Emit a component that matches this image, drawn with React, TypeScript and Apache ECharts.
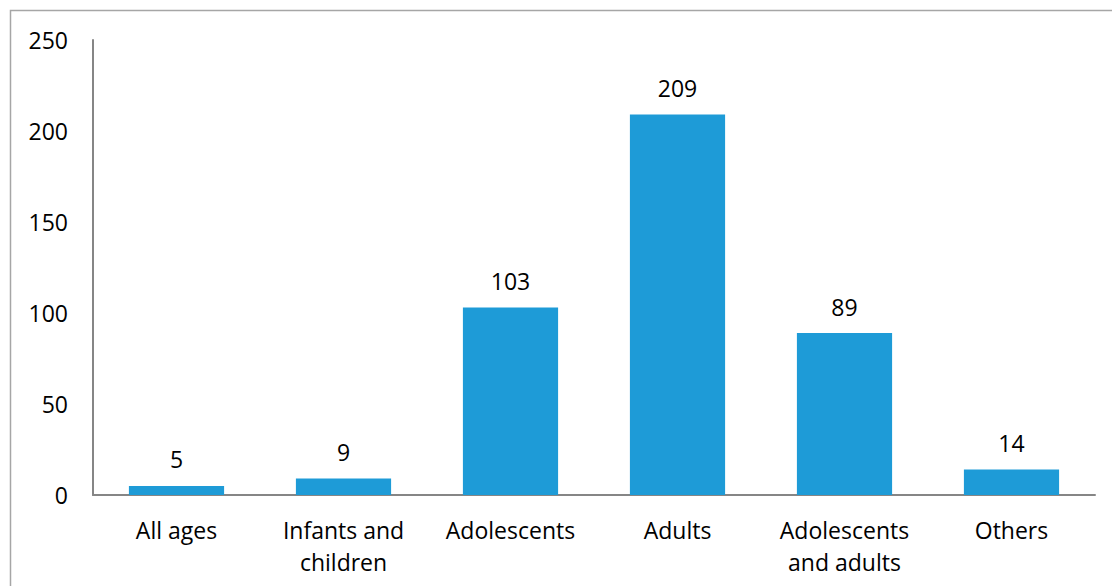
import React, { useEffect, useRef } from "react";
import * as echarts from "echarts";

const categories = ["All ages", "Infants and\nchildren", "Adolescents", "Adults", "Adolescents\nand adults", "Others"];
const values = [5, 9, 103, 209, 89, 14];
const yTicks = [0, 50, 100, 150, 200, 250];

const FONT = "'Open Sans', sans-serif";
const FS = 23;

export default function App() {
  const ref = useRef<HTMLDivElement>(null);
  useEffect(() => {
    if (!ref.current) return;
    const chart = echarts.init(ref.current, undefined, { renderer: "svg" });
    chart.setOption({
      animation: false,
      backgroundColor: "#ffffff",
      graphic: [
        {
          type: "rect",
          shape: { x: 10.5, y: 10.5, width: 1200, height: 700 },
          style: { fill: "none", stroke: "#a6a6a6", lineWidth: 1.5 },
          silent: true,
        },
      ],
      grid: { left: 93, top: 40, right: 17, bottom: 91 },
      xAxis: {
        type: "category",
        data: categories,
        axisLine: { lineStyle: { color: "#868686", width: 2 } },
        axisTick: { show: false },
        axisLabel: {
          color: "#000",
          fontSize: FS,
          fontFamily: FONT,
          margin: 19,
          lineHeight: 32,
          interval: 0,
        },
      },
      yAxis: {
        type: "value",
        min: yTicks[0],
        max: yTicks[yTicks.length - 1],
        interval: 50,
        splitLine: { show: false },
        axisLine: { show: true, lineStyle: { color: "#868686", width: 2 } },
        axisTick: { show: false },
        axisLabel: { color: "#000", fontSize: FS, fontFamily: FONT, margin: 25 },
      },
      series: [
        {
          type: "bar",
          data: values,
          barWidth: "57%",
          itemStyle: { color: "#1E9BD7" },
          label: {
            show: true,
            position: "top",
            distance: 15,
            color: "#000",
            fontSize: FS,
            fontFamily: FONT,
          },
        },
      ],
    });
    return () => chart.dispose();
  }, []);
  return <div ref={ref} style={{ width: 1112, height: 586, position: "absolute", left: 0, top: 0 }} />;
}
